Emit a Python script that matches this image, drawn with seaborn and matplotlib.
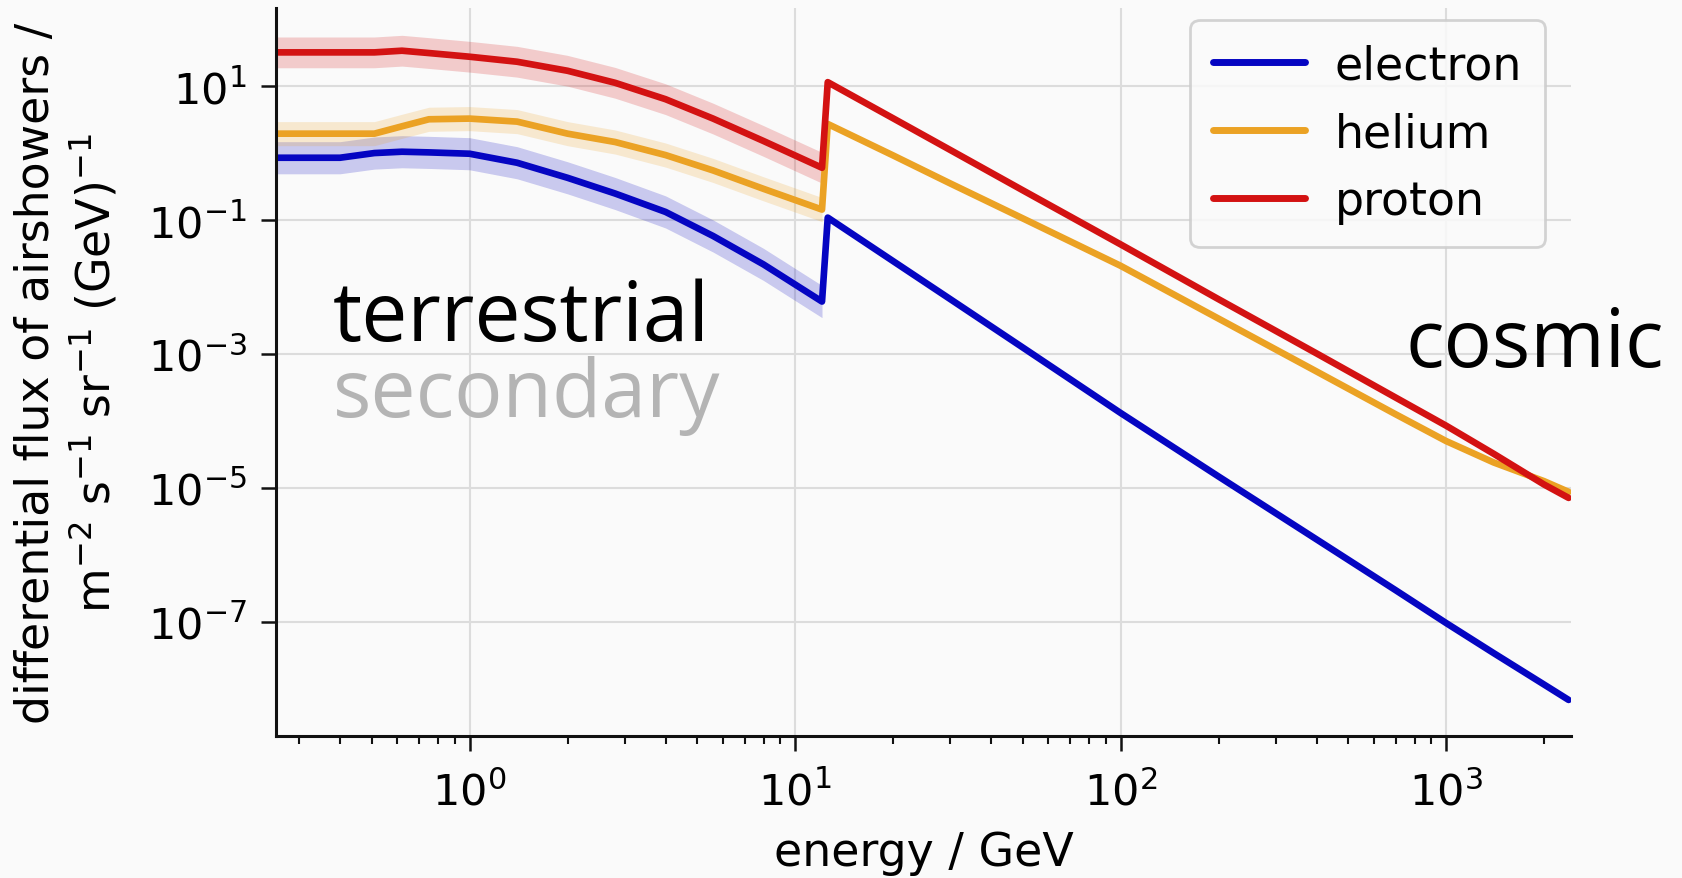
import numpy as np
import pandas as pd
import matplotlib
matplotlib.use("Agg")
import matplotlib.pyplot as plt
from matplotlib.ticker import LogLocator, NullLocator
import seaborn as sns

# energies in GeV: terrestrial (secondary) range, then the cosmic range
energy_terrestrial = [0.25, 0.40, 0.51, 0.62, 0.75, 1.0, 1.4, 2.0, 2.8, 4.0, 5.6, 8.0, 12.1]
energy_cosmic = [12.6, 20, 30, 50, 100, 200, 400, 700, 1000, 1400, 2000, 2380]

# log10 of the differential flux
electron_terrestrial = [-0.065, -0.065, 0.005, 0.025, 0.015, -0.005, -0.14, -0.365, -0.6, -0.875, -1.235, -1.66, -2.215]
helium_terrestrial = [0.295, 0.295, 0.295, 0.405, 0.51, 0.52, 0.475, 0.295, 0.17, -0.025, -0.255, -0.53, -0.84]
proton_terrestrial = [1.51, 1.51, 1.51, 1.535, 1.50, 1.445, 1.37, 1.235, 1.055, 0.81, 0.52, 0.185, -0.215]

electron_cosmic = [-0.96, -1.61, -2.18, -2.90, -3.88, -4.83, -5.77, -6.53, -7.02, -7.47, -7.94, -8.17]
helium_cosmic = [0.44, -0.03, -0.45, -0.97, -1.68, -2.47, -3.26, -3.90, -4.30, -4.62, -4.90, -5.06]
proton_cosmic = [1.065, 0.525, 0.05, -0.55, -1.36, -2.18, -2.99, -3.65, -4.07, -4.49, -4.95, -5.15]

# half width of the uncertainty band (in decades) for the terrestrial part
band_halfwidth = {"electron": 0.24, "helium": 0.18, "proton": 0.23}

species = ["electron", "helium", "proton"]
colors = {"electron": "#0505c2", "helium": "#eba224", "proton": "#d31212"}

terrestrial = {"electron": electron_terrestrial, "helium": helium_terrestrial, "proton": proton_terrestrial}
cosmic = {"electron": electron_cosmic, "helium": helium_cosmic, "proton": proton_cosmic}

rows = []
for s in species:
    for e, v in zip(energy_terrestrial + energy_cosmic, terrestrial[s] + cosmic[s]):
        rows.append({"energy": e, "flux": 10 ** v, "species": s})
df = pd.DataFrame(rows)

sns.set_theme(style="ticks")
plt.rcParams["font.family"] = ["DejaVu Sans"]
plt.rcParams.update({"text.color": "black", "axes.labelcolor": "black",
                     "xtick.color": "#111111", "ytick.color": "#111111"})

bg = "#fafafa"
fig = plt.figure(figsize=(16.82, 8.79), dpi=100, facecolor=bg)
ax = fig.add_axes([0.164, 0.1615, 0.770, 0.828], facecolor=bg)
ax.set_xscale("log")
ax.set_yscale("log")

# shaded bands for the terrestrial range
for s in species:
    v = np.array(terrestrial[s])
    w = band_halfwidth[s]
    ax.fill_between(energy_terrestrial, 10 ** (v - w), 10 ** (v + w),
                    color=colors[s], alpha=0.2, lw=0)

sns.lineplot(data=df, x="energy", y="flux", hue="species", hue_order=species,
             palette=colors, lw=4.8, estimator=None, sort=False, ax=ax)
for line in ax.get_lines():
    line.set_solid_joinstyle("round")

ax.set_xlim(0.254, 2420)
ax.set_ylim(10 ** -8.71, 10 ** 2.17)
ax.set_yticks([1e1, 1e-1, 1e-3, 1e-5, 1e-7])
ax.yaxis.set_minor_locator(NullLocator())
ax.xaxis.set_major_locator(LogLocator(base=10))
ax.xaxis.set_minor_locator(LogLocator(base=10, subs=np.arange(2, 10) * 0.1, numticks=20))

ax.grid(True, which="major", color="#dcdcdc", lw=1.5)
ax.set_axisbelow(True)
ax.tick_params(which="major", length=11, width=1.8, labelsize=31, labelcolor="black")
ax.tick_params(axis="x", which="major", pad=14)
ax.tick_params(axis="y", which="major", pad=10)
ax.tick_params(which="minor", length=6, width=1.5)
sns.despine(ax=ax)
for sp in ["left", "bottom"]:
    ax.spines[sp].set_linewidth(2.2)
    ax.spines[sp].set_color("#111111")

ax.set_xlabel("energy / GeV", fontsize=33, labelpad=12)
ax.set_ylabel("differential flux of airshowers /\n"
              r"m$^{-2}$ s$^{-1}$ sr$^{-1}$ (GeV)$^{-1}$", fontsize=33, labelpad=20)

leg = ax.legend(loc="upper right", bbox_to_anchor=(0.98, 0.9835), borderaxespad=0,
                fontsize=33, handlelength=2.0, handletextpad=0.65, labelspacing=0.5,
                borderpad=0.5, framealpha=0.85, edgecolor="#cccccc", fancybox=True)
leg.get_frame().set_linewidth(2)
leg.get_frame().set_facecolor(bg)
for line in leg.get_lines():
    line.set_linewidth(5)

# region annotations
ax.text(0.044, 0.544, "terrestrial", transform=ax.transAxes, fontsize=59,
        family="Open Sans", color="black", va="baseline")
ax.text(0.044, 0.44, "secondary", transform=ax.transAxes, fontsize=58,
        family="Open Sans", color="#b4b4b4", va="baseline")
ax.text(0.872, 0.508, "cosmic", transform=ax.transAxes, fontsize=58,
        family="Open Sans", color="black", va="baseline", clip_on=False)

fig.savefig("out.png", dpi=100, facecolor=bg)
plt.close(fig)
